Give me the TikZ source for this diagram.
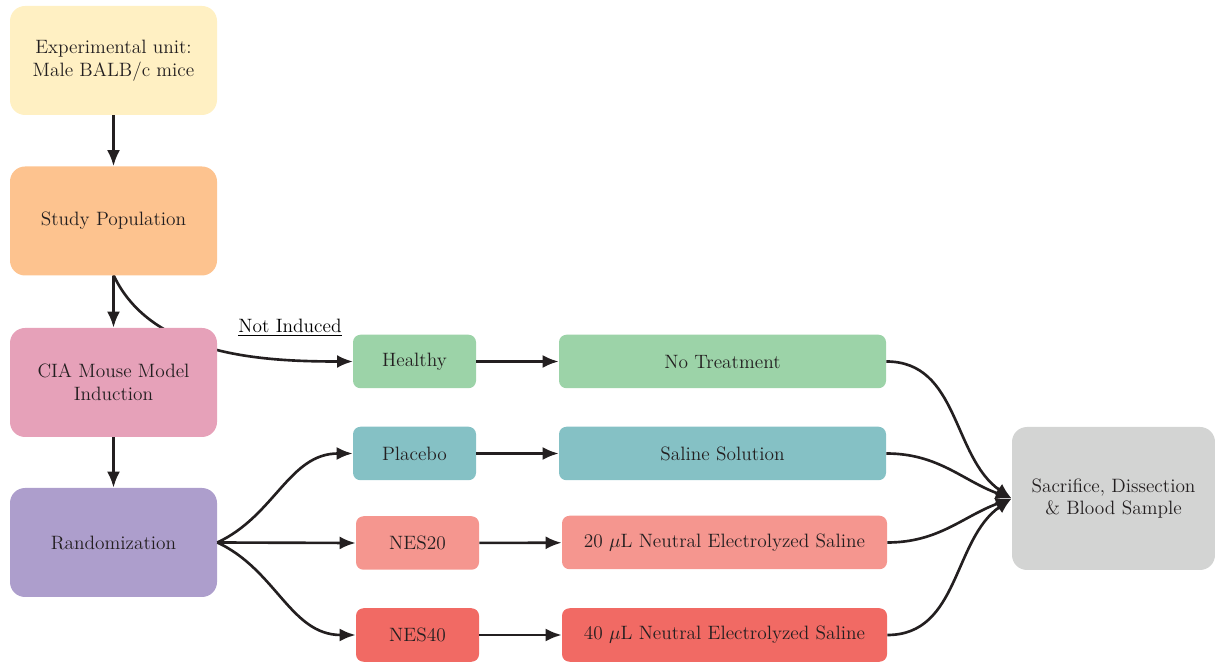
\documentclass[tikz,border=0pt]{standalone}
\usepackage{tikz}
\usepackage{xcolor}
\usepackage{amsmath}
\usetikzlibrary{shapes}
\usetikzlibrary{positioning}
\usetikzlibrary{arrows.meta}

\definecolor{unitcol}{HTML}{FFF0C3}
\definecolor{popcol}{HTML}{FDC38F}
\definecolor{ciacol}{HTML}{E6A1B9}
\definecolor{randcol}{HTML}{AD9ECC}
\definecolor{healthycol}{HTML}{9CD3A8}
\definecolor{placebocol}{HTML}{85C1C5}
\definecolor{nesAcol}{HTML}{F5968F}
\definecolor{nesBcol}{HTML}{F16A64}
\definecolor{saccol}{HTML}{D3D4D3}
\definecolor{txtcol}{HTML}{231F20}

\begin{document}
\begin{tikzpicture}[
        font=\fontsize{11}{13}\selectfont,
        box/.style={rectangle, rounded corners=0.3cm, align=center, text=txtcol, inner sep=2pt},
        bigbox/.style={box, minimum width=4.14cm, minimum height=2.18cm},
        smallbox/.style={box, rounded corners=0.15cm, minimum width=2.46cm, minimum height=1.07cm},
        longbox/.style={box, rounded corners=0.15cm, minimum width=6.5cm, minimum height=1.07cm},
        link/.style={-{Latex[length=3.2mm,width=2.6mm]}, line width=1.5pt, draw=txtcol}
    ]
        \useasboundingbox (0,0) rectangle (24.3,-13.26);
        %Not induced branch (drawn first, passes behind the model box)
            \coordinate (popbottom) at (2.27,-5.5);
            \coordinate (healthyin) at (7.06,-7.23);
            \draw[link] (popbottom) to[out=-65, in=180, looseness=0.9] (healthyin);
            \node (notinduced) at (5.8,-6.56) {\underline{Not Induced}};
        %Left column
            \node[bigbox, fill=unitcol] (unit) at (2.27,-1.21) {Experimental unit:\\Male BALB/c mice};
            \node[bigbox, fill=popcol] (pop) at (2.27,-4.42) {Study Population};
            \node[bigbox, fill=ciacol] (cia) at (2.27,-7.65) {CIA Mouse Model\\Induction};
            \node[bigbox, fill=randcol] (rand) at (2.27,-10.85) {Randomization};
        %Groups
            \node[smallbox, fill=healthycol] (healthy) at (8.29,-7.23) {Healthy};
            \node[smallbox, fill=placebocol] (placebo) at (8.29,-9.07) {Placebo};
            \node[smallbox, fill=nesAcol] (nesA) at (8.35,-10.86) {NES20};
            \node[smallbox, fill=nesBcol] (nesB) at (8.35,-12.70) {NES40};
        %Treatments
            \node[longbox, fill=healthycol, minimum width=6.54cm] (notreat) at (14.45,-7.23) {No Treatment};
            \node[longbox, fill=placebocol, minimum width=6.54cm] (saline) at (14.45,-9.07) {Saline Solution};
            \node[longbox, fill=nesAcol] (doseA) at (14.49,-10.85) {20 $\mu$L Neutral Electrolyzed Saline};
            \node[longbox, fill=nesBcol] (doseB) at (14.49,-12.70) {40 $\mu$L Neutral Electrolyzed Saline};
        %Outcome
            \node[box, fill=saccol, minimum width=4.06cm, minimum height=2.86cm] (sac) at (22.27,-9.97) {Sacrifice, Dissection\\\& Blood Sample};
        %Vertical flow
            \draw[link] (unit) -- (pop);
            \draw[link] (pop) -- (cia);
            \draw[link] (cia) -- (rand);
        %Randomization split
            \draw[link] (rand.east) to[out=25, in=180] (placebo.west);
            \draw[link] (rand.east) -- (nesA.west);
            \draw[link] (rand.east) to[out=-25, in=180] (nesB.west);
        %Group to treatment
            \draw[link] (healthy) -- (notreat);
            \draw[link] (placebo) -- (saline);
            \draw[link] (nesA) -- (doseA);
            \draw[link] (nesB) -- (doseB);
        %Merge into outcome
            \draw[link] (notreat.east) to[out=0, in=145] (sac.west);
            \draw[link] (saline.east) to[out=0, in=160] (sac.west);
            \draw[link] (doseA.east) to[out=0, in=200] (sac.west);
            \draw[link] (doseB.east) to[out=0, in=215] (sac.west);
    \end{tikzpicture}
\end{document}
